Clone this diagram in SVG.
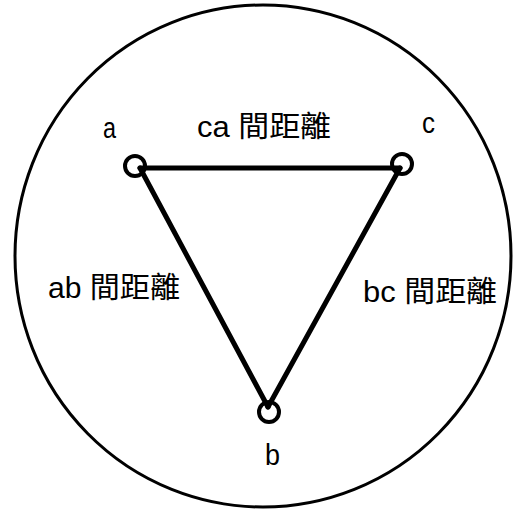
<svg xmlns="http://www.w3.org/2000/svg" width="513" height="514" viewBox="0 0 513 514">
<style>
.t{font-family:"Liberation Sans","Noto Sans CJK TC",sans-serif;font-size:29px;fill:#000}
.n{fill:none;stroke:#000;stroke-width:4}
.e{stroke:#000;stroke-width:5;stroke-linecap:round;fill:none}
</style>
<rect width="513" height="514" fill="#fff"/>
<ellipse cx="263" cy="256" rx="248" ry="251" fill="none" stroke="#000" stroke-width="3"/>
<g id="connectors">
<line class="e" x1="140" y1="168" x2="400" y2="168"/>
<line class="e" x1="140" y1="168" x2="268" y2="407"/>
<line class="e" x1="400" y1="168" x2="268" y2="407"/>
</g>
<g id="node-a"><circle class="n" cx="135" cy="166" r="10"/><text class="t" x="103" y="138" textLength="13" lengthAdjust="spacingAndGlyphs">a</text></g>
<g id="node-c"><circle class="n" cx="402" cy="164" r="10"/><text class="t" x="422" y="133" textLength="13" lengthAdjust="spacingAndGlyphs">c</text></g>
<g id="node-b"><circle class="n" cx="269" cy="412" r="10"/><text class="t" x="265" y="465" textLength="15" lengthAdjust="spacingAndGlyphs">b</text></g>
<text class="t" x="197" y="137" textLength="134" lengthAdjust="spacingAndGlyphs">ca 間距離</text>
<text class="t" x="48" y="298" textLength="132" lengthAdjust="spacingAndGlyphs">ab 間距離</text>
<text class="t" x="363" y="302" textLength="134" lengthAdjust="spacingAndGlyphs">bc 間距離</text>
</svg>
